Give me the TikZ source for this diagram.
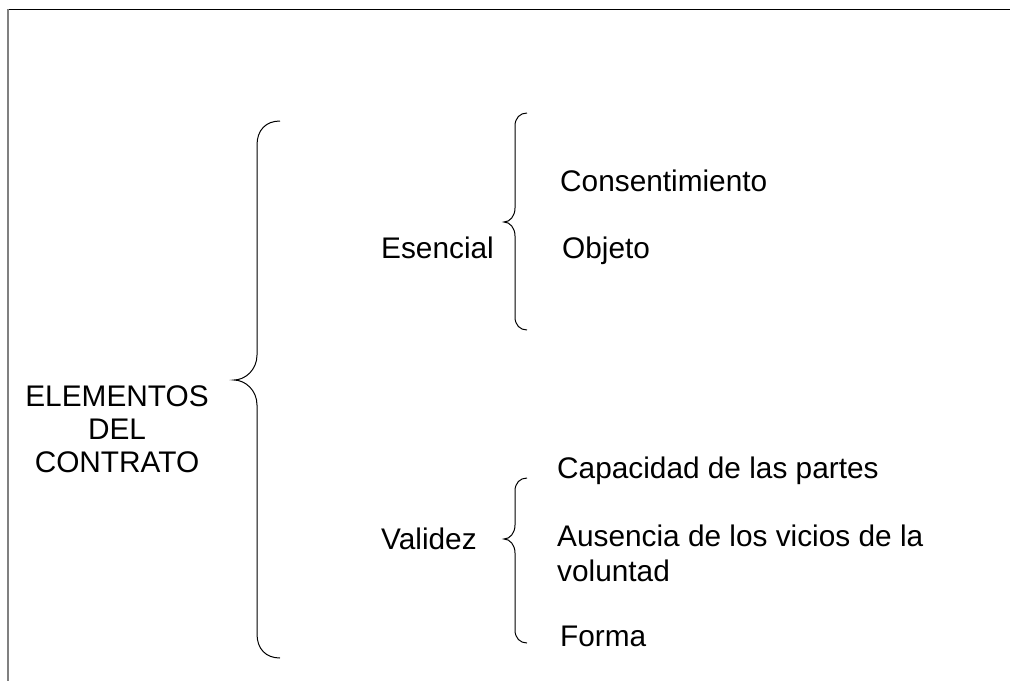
\documentclass[tikz,border=0pt]{standalone}
\usepackage{fontspec}
\setmainfont{Liberation Sans}
\begin{document}
\begin{tikzpicture}[x=1pt,y=-1pt,
  lbl/.style={inner sep=0pt,anchor=base west,font=\fontsize{29.8}{33}\selectfont},
  brace/.style={draw=black,line width=1pt}]
\useasboundingbox (0,0) rectangle (1010,681);
% frame
\draw[black,line width=1.5pt] (7,9.5) -- (1010,9.5);
\draw[gray,line width=2pt] (8,9) -- (8,681);
% texts
\node[lbl,anchor=base,align=center] (root) at (117,472) {ELEMENTOS\\DEL\\CONTRATO};
\node[lbl] (esen) at (381,258) {Esencial};
\node[lbl] (cons) at (560,191) {Consentimiento};
\node[lbl] (obj) at (562,258) {Objeto};
\node[lbl] (val) at (381,549) {Validez};
\node[lbl] (cap) at (557,478) {Capacidad de las partes};
\node[lbl] (aus) at (557,546) {Ausencia de los vicios de la};
\node[lbl] (vol) at (557,581) {voluntad};
\node[lbl] (for) at (560,646) {Forma};
% big brace
\draw[brace] (280,121) .. controls (266,121) and (257,130) .. (257,145)
  -- (257,355) .. controls (257,370) and (245,380) .. (234,380)
  .. controls (245,380) and (257,390) .. (257,405)
  -- (257,634) .. controls (257,649) and (266,658) .. (280,658);
% brace esencial
\draw[brace] (527,113) .. controls (520,113) and (515,118) .. (515,126)
  -- (515,208) .. controls (515,216) and (510,222) .. (504,222)
  .. controls (510,222) and (515,228) .. (515,236)
  -- (515,317) .. controls (515,325) and (520,330) .. (527,330);
% brace validez
\draw[brace] (527,478) .. controls (520,478) and (515,483) .. (515,491)
  -- (515,525) .. controls (515,533) and (510,539) .. (504,539)
  .. controls (510,539) and (515,545) .. (515,553)
  -- (515,630) .. controls (515,638) and (520,643) .. (527,643);
\end{tikzpicture}
\end{document}
